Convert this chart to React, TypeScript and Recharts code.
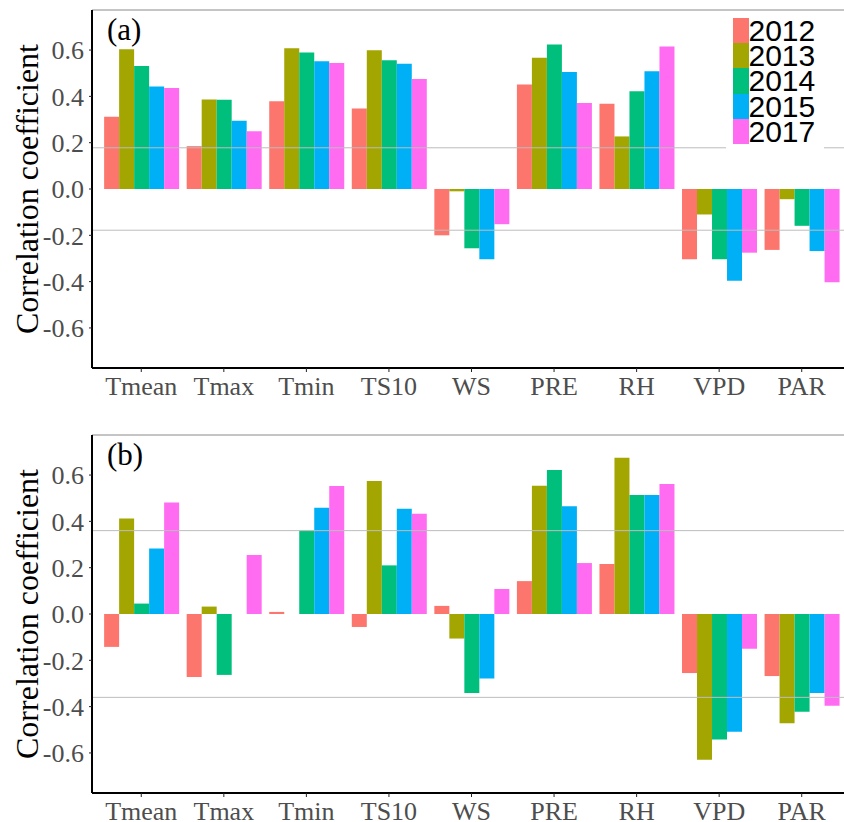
import React from "react";
import { BarChart, Bar, XAxis, YAxis, ReferenceLine, Legend } from "recharts";

const vars = ["Tmean", "Tmax", "Tmin", "TS10", "WS", "PRE", "RH", "VPD", "PAR"];
const years = ["2012", "2013", "2014", "2015", "2017"];
const colors = ["#FC766D", "#A3A500", "#00BF7D", "#00B0F6", "#FF6CF2"];

// panel (a)
const a2012 = [0.312, 0.185, 0.379, 0.348, -0.2, 0.451, 0.368, -0.303, -0.263];
const a2013 = [0.604, 0.386, 0.608, 0.599, -0.01, 0.567, 0.227, -0.11, -0.044];
const a2014 = [0.531, 0.385, 0.589, 0.556, -0.256, 0.624, 0.422, -0.303, -0.159];
const a2015 = [0.443, 0.295, 0.552, 0.541, -0.303, 0.505, 0.509, -0.396, -0.268];
const a2017 = [0.436, 0.249, 0.544, 0.475, -0.152, 0.371, 0.615, -0.275, -0.403];

// panel (b)
const b2012 = [-0.142, -0.272, 0.009, -0.056, 0.035, 0.142, 0.216, -0.255, -0.268];
const b2013 = [0.412, 0.032, 0, 0.574, -0.106, 0.554, 0.675, -0.629, -0.472];
const b2014 = [0.045, -0.263, 0.361, 0.21, -0.341, 0.622, 0.514, -0.542, -0.422];
const b2015 = [0.283, 0, 0.459, 0.455, -0.278, 0.465, 0.514, -0.508, -0.341];
const b2017 = [0.482, 0.255, 0.553, 0.433, 0.108, 0.22, 0.561, -0.15, -0.396];

const yTicks = [-0.6, -0.4, -0.2, 0, 0.2, 0.4, 0.6];
const yMax = 0.773;
const sigA = 0.178;
const sigB = 0.36;

const build = (cols: number[][]) =>
  vars.map((v, i) => {
    const row: any = { name: v };
    years.forEach((y, j) => (row["y" + y] = cols[j][i]));
    return row;
  });

const dataA = build([a2012, a2013, a2014, a2015, a2017]);
const dataB = build([b2012, b2013, b2014, b2015, b2017]);

const serif = "'Liberation Serif', 'Times New Roman', serif";

const LegendBox = (props: any) => {
  const { payload } = props;
  return (
    <div style={{ background: "#fff", padding: "6px 4px 5px 7px" }}>
      {payload.map((p: any) => (
        <div key={p.value} style={{ display: "flex", height: 25.2 }}>
          <span style={{ width: 15.5, height: 25.2, background: p.color }} />
          <span
            style={{
              fontFamily: "'Liberation Sans', Arial, sans-serif",
              fontSize: 30,
              lineHeight: "25.2px",
              color: "#000",
            }}
          >
            {p.value}
          </span>
        </div>
      ))}
    </div>
  );
};

const YLabel = (props: any) => {
  const { viewBox } = props;
  const x = viewBox.x + 38;
  const y = viewBox.y + viewBox.height / 2;
  return (
    <text
      x={x}
      y={y}
      transform={`rotate(-90, ${x}, ${y})`}
      textAnchor="middle"
      fontFamily={serif}
      fontSize={32}
      fill="#000"
    >
      Correlation coefficient
    </text>
  );
};

const Panel = ({ data, sig, top, height, marginTop, xHeight, tag, legend }: any) => (
  <div style={{ position: "absolute", left: 0, top, width: 851, height }}>
    <BarChart
      width={851}
      height={height}
      data={data}
      margin={{ top: marginTop, right: 0, bottom: 0, left: 0 }}
      barCategoryGap="5%"
      barGap={0}
    >
      <XAxis
        dataKey="name"
        height={xHeight}
        interval={0}
        padding={{ left: 8, right: 8 }}
        axisLine={{ stroke: "#000", strokeWidth: 2 }}
        tickLine={{ stroke: "#222" }}
        tickSize={4}
        tickMargin={5}
        tick={{ fill: "#4D4D4D", fontSize: 26, fontFamily: serif }}
      />
      <YAxis
        width={92}
        domain={[-yMax, yMax]}
        ticks={yTicks}
        interval={0}
        tickFormatter={(v: number) => v.toFixed(1)}
        axisLine={{ stroke: "#000", strokeWidth: 2 }}
        tickLine={{ stroke: "#222" }}
        tickSize={3}
        tickMargin={5}
        tick={{ fill: "#4D4D4D", fontSize: 26, fontFamily: serif }}
        label={<YLabel />}
      />
      <ReferenceLine y={sig} stroke="#BDBDBD" strokeWidth={1} />
      <ReferenceLine y={-sig} stroke="#BDBDBD" strokeWidth={1} />
      <ReferenceLine y={yMax} stroke="#8A8A8A" strokeWidth={1} />
      {years.map((y, j) => (
        <Bar
          key={y}
          dataKey={"y" + y}
          name={y}
          fill={colors[j]}
          isAnimationActive={false}
        />
      ))}
      {legend && (
        <Legend
          layout="vertical"
          align="center"
          verticalAlign="middle"
          content={<LegendBox />}
          wrapperStyle={{ left: 726, top: 12, width: 98, height: "auto" }}
        />
      )}
    </BarChart>
    <svg
      style={{ position: "absolute", left: 0, top: 0, pointerEvents: "none" }}
      width={200}
      height={90}
    >
      <text x={107} y={marginTop + 29.5} fontFamily={serif} fontSize={31} fill="#000">
        {tag}
      </text>
    </svg>
  </div>
);

export default function App() {
  return (
    <div
      style={{
        position: "absolute",
        left: 0,
        top: 0,
        width: 844,
        height: 822,
        overflow: "hidden",
        background: "#fff",
      }}
    >
      <Panel data={dataA} sig={sigA} top={0} height={400} marginTop={10} xHeight={32} tag="(a)" legend />
      <Panel data={dataB} sig={sigB} top={400} height={422} marginTop={35} xHeight={29} tag="(b)" />
    </div>
  );
}
